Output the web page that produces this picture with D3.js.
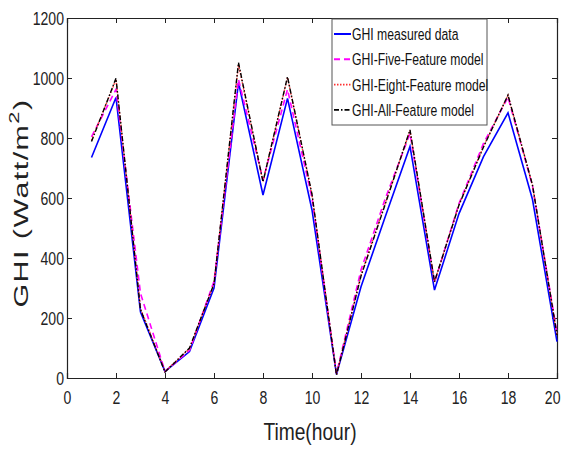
<!DOCTYPE html>
<html>
<head>
<meta charset="utf-8">
<script src="https://cdn.jsdelivr.net/npm/d3@7"></script>
<style>
  body { margin: 0; background: #fff; }
  text { font-family: "Liberation Sans", Arial, sans-serif; }
</style>
</head>
<body>
<div id="chart"></div>
<script>
// hours 1..20
var hours = d3.range(1, 21);
var measured = [735, 935, 220, 22, 88, 300, 985, 610, 932, 560, 12, 304, 540, 772, 293, 548, 738, 884, 595, 121];
var fiveFeature = [804, 962, 282, 22, 92, 322, 995, 660, 962, 600, 15, 360, 600, 815, 318, 582, 782, 936, 640, 150];
var eightFeature = [792, 995, 232, 22, 98, 314, 1045, 654, 1002, 610, 12, 342, 585, 825, 320, 577, 772, 942, 642, 143];
var allFeature = [788, 999, 228, 20, 100, 314, 1051, 654, 1004, 612, 10, 340, 582, 827, 321, 577, 770, 943, 643, 143];
var xTicks = d3.range(0, 21, 2);
var yTicks = d3.range(0, 1201, 200);
var seriesNames = ["GHI measured data", "GHI-Five-Feature model", "GHI-Eight-Feature model", "GHI-All-Feature model"];

var width = 561, height = 451;
var margin = {left: 67, right: 4, top: 18, bottom: 73};
var squeeze = 0.74; // fake the narrow font of the original

var svg = d3.select("#chart").append("svg")
    .attr("width", width)
    .attr("height", height);

var x = d3.scaleLinear().domain([0, 20]).range([margin.left, width - margin.right]);
var y = d3.scaleLinear().domain([0, 1200]).range([height - margin.bottom, margin.top]);

// axes, matlab style: box around and ticks pointing in
svg.append("g")
    .attr("class", "xaxis")
    .attr("transform", "translate(0," + y(0) + ")")
    .call(d3.axisBottom(x).tickValues(xTicks).tickSize(-5).tickPadding(13).tickFormat(d3.format("d")));
svg.append("g")
    .attr("class", "yaxis")
    .attr("transform", "translate(" + x(0) + ",0)")
    .call(d3.axisLeft(y).tickValues(yTicks).tickSize(-5).tickPadding(3).tickFormat(d3.format("d")));
svg.append("g")
    .attr("transform", "translate(0," + y(1200) + ")")
    .call(d3.axisTop(x).tickValues(xTicks).tickSize(-5).tickFormat(""));
svg.append("g")
    .attr("transform", "translate(" + x(20) + ",0)")
    .call(d3.axisRight(y).tickValues(yTicks).tickSize(-5).tickFormat(""));

svg.selectAll(".domain").attr("stroke", "#222").attr("stroke-width", 1.2);
svg.selectAll(".tick line").attr("stroke", "#222");
svg.selectAll(".tick text")
    .attr("font-size", 19)
    .attr("font-family", "Liberation Sans, Arial, sans-serif")
    .attr("fill", "#222")
    .attr("transform", "scale(" + squeeze + ",1)");
svg.selectAll(".yaxis .tick text").attr("x", -3 / squeeze);
// last x label pulled in so it stays on the page
svg.selectAll(".xaxis .tick text")
    .filter(function(d) { return d === 20; })
    .attr("text-anchor", "end")
    .attr("x", 3 / squeeze);

// lines
var line = d3.line()
    .x(function(d, i) { return x(hours[i]); })
    .y(function(d) { return y(d); });

var styles = [
    {data: measured, color: "#0000ff", dash: null, w: 1.6},
    {data: fiveFeature, color: "#ff00ff", dash: "6,4", w: 1.6},
    {data: eightFeature, color: "#ff3030", dash: "1.5,1.5", w: 1.4},
    {data: allFeature, color: "#000000", dash: "5,2,1.5,2", w: 1.4}
];

styles.forEach(function(s) {
    svg.append("path")
        .datum(s.data)
        .attr("fill", "none")
        .attr("stroke", s.color)
        .attr("stroke-width", s.w)
        .attr("stroke-dasharray", s.dash)
        .attr("d", line);
});

// legend
var lg = svg.append("g").attr("transform", "translate(332,19)");
lg.append("rect")
    .attr("width", 155)
    .attr("height", 106)
    .attr("fill", "#fff")
    .attr("stroke", "#555")
    .attr("stroke-width", 1);
styles.forEach(function(s, i) {
    var yy = 15 + i * 25.3;
    lg.append("line")
        .attr("x1", 2).attr("x2", 19)
        .attr("y1", yy).attr("y2", yy)
        .attr("stroke", s.color)
        .attr("stroke-width", s.w + 0.4)
        .attr("stroke-dasharray", s.dash);
    lg.append("text")
        .attr("transform", "translate(20," + (yy + 6) + ") scale(" + squeeze + ",1)")
        .attr("font-size", 16.5)
        .attr("fill", "#111")
        .text(seriesNames[i]);
});

// axis titles
svg.append("text")
    .attr("transform", "translate(" + ((x(0) + x(20)) / 2 - 2) + ",440) scale(0.8,1)")
    .attr("text-anchor", "middle")
    .attr("font-size", 24)
    .attr("fill", "#222")
    .text("Time(hour)");

var yt = svg.append("text")
    .attr("transform", "translate(28,203) rotate(-90) scale(1.45,1)")
    .attr("text-anchor", "middle")
    .attr("font-size", 21)
    .attr("letter-spacing", 1)
    .attr("fill", "#222");
yt.append("tspan").text("GHI (Watt/m");
yt.append("tspan").attr("dy", -9).attr("font-size", 15).text("2");
yt.append("tspan").attr("dy", 9).text(")");
</script>
</body>
</html>
